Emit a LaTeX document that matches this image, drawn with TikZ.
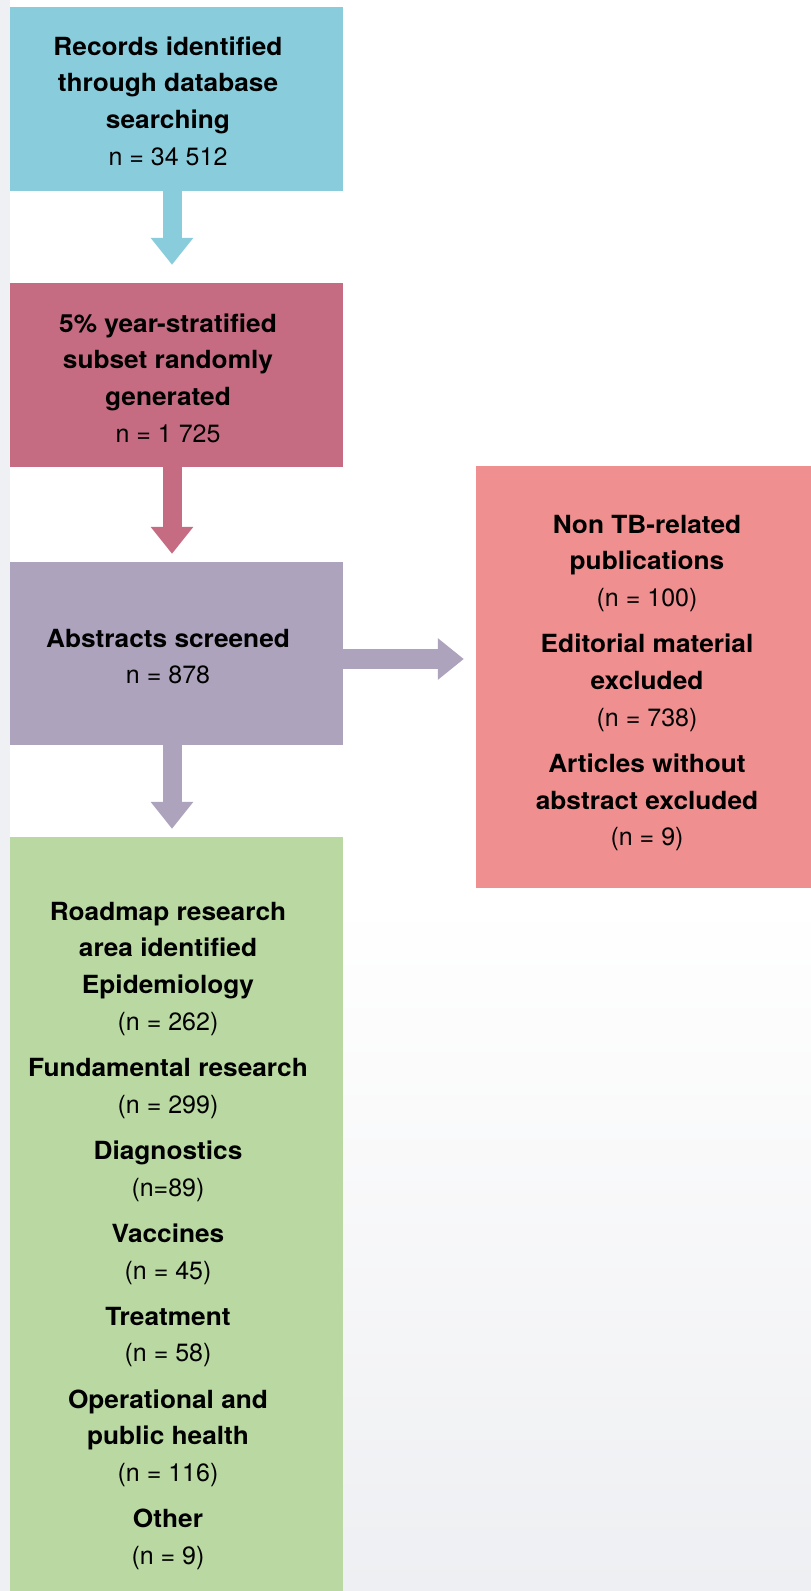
\documentclass[tikz,border=0pt]{standalone}
\usepackage{fontspec}
\setmainfont{TeX Gyre Heros}[BoldFeatures={FakeStretch=1.05}]
\usetikzlibrary{arrows.meta}
\definecolor{cA}{HTML}{89CDDD}
\definecolor{cB}{HTML}{C56B82}
\definecolor{cC}{HTML}{ADA3BD}
\definecolor{cD}{HTML}{EF8F90}
\definecolor{cE}{HTML}{B9D8A2}
\definecolor{bgbot}{HTML}{EEEFF2}
\definecolor{bgleft}{HTML}{EFF0F3}
\newcommand\numline[1]{{\mdseries #1}}
\tikzset{
  box/.style={rectangle, draw=none, inner sep=0pt},
  txt/.style={anchor=north, inner sep=0pt, align=center,
    font=\fontsize{25}{36.7}\selectfont\bfseries},
  flow/.style={line width=19pt, -{Triangle[width=41pt,length=27pt]}}
}
\begin{document}
\begin{tikzpicture}[x=1pt,y=-1pt]
\useasboundingbox (0,0) rectangle (811,1591);
\fill[white] (0,0) rectangle (811,1591);
\shade[top color=white, bottom color=bgbot] (0,900) rectangle (811,1591);
\fill[bgleft] (0,0) rectangle (10,1591);
% boxes
\node[box, fill=cA, minimum width=333pt, minimum height=184pt] (b1) at (176.5,99) {};
\node[box, fill=cB, minimum width=333pt, minimum height=184pt] (b2) at (176.5,375) {};
\node[box, fill=cC, minimum width=333pt, minimum height=183pt] (b3) at (176.5,653.5) {};
\node[box, fill=cE, minimum width=333pt, minimum height=754pt] (b4) at (176.5,1214) {};
\node[box, fill=cD, minimum width=335pt, minimum height=422pt] (rb) at (643.5,677) {};
% connectors
\draw[flow, draw=cA, fill=cA, shorten >=18pt] ([xshift=-4.5pt]b1.south) -- ([xshift=-4.5pt]b2.north);
\draw[flow, draw=cB, fill=cB, shorten >=8pt] ([xshift=-4.5pt]b2.south) -- ([xshift=-4.5pt]b3.north);
\draw[flow, draw=cC, fill=cC, shorten >=8pt] ([xshift=-4.5pt]b3.south) -- ([xshift=-4.5pt]b4.north);
\coordinate (e3) at ([yshift=-5.5pt]b3.east);
\draw[flow, draw=cC, fill=cC, shorten >=12pt, line width=20pt, -{Triangle[width=40pt,length=26pt]}] (e3) -- (e3 -| rb.west);
% texts
\node[txt] (t1) at (168,29.3) {\strut Records identified\\through database\\searching\\\numline{n = 34 512}};
\node[txt] (t2) at (168,306.3) {\strut 5\% year-stratified\\subset randomly\\generated\\\numline{n = 1 725}};
\node[txt] (t3) at (168,621.3) {\strut Abstracts screened\\\numline{n = 878}};
\node[txt] (t5) at (647,507.3) {\strut Non TB-related\\publications\\\numline{(n = 100)}\\[9.5pt]
Editorial material\\excluded\\\numline{(n = 738)}\\[9.5pt]
Articles without\\abstract excluded\\\numline{(n = 9)}};
\node[txt] (t4) at (168,894.3) {\strut Roadmap research\\area identified\\Epidemiology\\\numline{(n = 262)}\\[9.5pt]
Fundamental research\\\numline{(n = 299)}\\[9.5pt]
Diagnostics\\\numline{(n=89)}\\[9.5pt]
Vaccines\\\numline{(n = 45)}\\[9.5pt]
Treatment\\\numline{(n = 58)}\\[9.5pt]
Operational and\\public health\\\numline{(n = 116)}\\[9.5pt]
Other\\\numline{(n = 9)}};
\end{tikzpicture}
\end{document}
